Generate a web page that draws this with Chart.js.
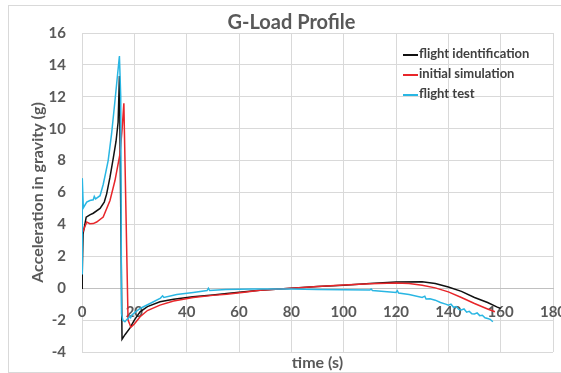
<!DOCTYPE html>
<html>
<head>
<meta charset="utf-8">
<script src="https://cdn.jsdelivr.net/npm/chart.js@4.4.1/dist/chart.umd.min.js"></script>
<style>
  body { margin: 0; background: #fff; }
  .wrap { position: relative; width: 561px; height: 373px; overflow: hidden; }
  .frame { position: absolute; left: 8px; top: 5px; width: 600px; height: 366px; border: 1px solid #d9d9d9; }
  #chart { position: absolute; left: 0; top: 0; }
  .legend { position: absolute; left: 403px; top: 43px; font: bold 13px Lato, sans-serif; color: #404040; }
  .legend div { height: 20px; line-height: 20px; white-space: nowrap; }
  .legend span { display: inline-block; width: 15px; height: 2px; vertical-align: middle; margin-right: 1px; }
</style>
</head>
<body>
<div class="wrap">
  <div class="frame"></div>
  <canvas id="chart" width="561" height="373"></canvas>
  <div class="legend" id="legend"></div>
</div>
<script>
const seriesLabels = ["flight identification", "initial simulation", "flight test"];
const seriesColors = ["#111111", "#e8262a", "#29b6e3"];

const timeTicks = [0, 20, 40, 60, 80, 100, 120, 140, 160, 180];
const gTicks = [-4, -2, 0, 2, 4, 6, 8, 10, 12, 14, 16];

// flight identification
const identTime = [0, 0.1, 0.4, 1.6, 3, 4.3, 6.9, 8.5, 9.4, 10.7, 12, 13, 13.8, 14.3, 15.3, 16.5, 18.3, 20, 22.2, 25, 29.8, 35, 42.4, 50, 55.3, 62, 68, 80, 90, 100, 110, 120, 130, 135, 140, 145, 150, 155, 158.5, 160];
const identG = [0, 0.9, 3.4, 4.45, 4.6, 4.7, 5.0, 5.4, 5.9, 6.96, 8.2, 9.2, 10.4, 13.3, -3.2, -2.9, -2.5, -2.0, -1.48, -1.15, -0.85, -0.7, -0.54, -0.42, -0.33, -0.22, -0.125, 0, 0.1, 0.19, 0.3, 0.39, 0.4, 0.3, 0.08, -0.2, -0.58, -0.9, -1.17, -1.27];

// initial simulation
const simTime = [0.2, 0.5, 1.8, 3, 4.3, 5.6, 8.1, 10.7, 12.6, 14.5, 15.3, 16.0, 17.6, 18.7, 20, 22.2, 25, 29.8, 35, 42.5, 50, 55.3, 62, 68, 80, 90, 100, 110, 120, 125, 130, 135, 140, 145, 150, 155, 157.8];
const simG = [3.5, 3.6, 4.15, 4.04, 4.05, 4.15, 4.46, 5.5, 6.75, 8.4, 9.9, 11.6, -2.0, -2.45, -2.25, -1.79, -1.4, -1.06, -0.8, -0.58, -0.45, -0.375, -0.25, -0.125, 0, 0.1, 0.2, 0.28, 0.33, 0.3, 0.19, 0.02, -0.23, -0.58, -0.96, -1.3, -1.48];

// flight test
const testTime = [0, 0.1, 0.5, 1.8, 3, 4.3, 4.7, 5.2, 6.9, 8.1, 9, 10, 11.3, 12.6, 14.3, 14.8, 15.1, 15.6, 16.4, 17.2, 17.7, 18.2, 18.6, 19, 20, 22.2, 26, 30, 30.8, 31.3, 36.2, 42.5, 47.8, 48.3, 48.8, 55, 65, 80, 90, 100, 110, 110.5, 111, 120, 120.5, 121, 125, 130, 131, 131.5, 133, 135, 137, 139, 140, 141, 142, 143, 144, 145, 146, 147, 148, 149, 150, 151, 152, 153, 154, 155, 156, 157];
const testG = [0.9, 6.9, 5.04, 5.4, 5.5, 5.54, 5.75, 5.6, 5.8, 6.5, 7.2, 8.0, 9.67, 11.75, 14.56, 12.0, -1.6, -2.0, -2.1, -1.95, -1.9, -1.75, -1.85, -1.69, -1.55, -1.27, -0.96, -0.62, -0.48, -0.58, -0.4, -0.27, -0.15, 0.0, -0.15, -0.08, -0.05, -0.05, -0.08, -0.1, -0.12, -0.05, -0.14, -0.27, -0.15, -0.3, -0.4, -0.58, -0.5, -0.68, -0.66, -0.75, -0.9, -1.0, -1.06, -1.0, -1.2, -1.15, -1.33, -1.37, -1.3, -1.5, -1.45, -1.6, -1.62, -1.55, -1.72, -1.7, -1.85, -1.9, -1.95, -2.1];

const toPoints = (xs, ys) => xs.map((x, i) => ({ x: x, y: ys[i] }));
const seriesPoints = [toPoints(identTime, identG), toPoints(simTime, simG), toPoints(testTime, testG)];
const drawOrder = [2, 1, 0]; // flight test on top

const textGray = "#595959";
const gridGray = "#d9d9d9";

const chart = new Chart(document.getElementById("chart"), {
  type: "line",
  data: {
    datasets: seriesLabels.map((label, i) => ({
      label: label,
      data: seriesPoints[i],
      borderColor: seriesColors[i],
      backgroundColor: seriesColors[i],
      borderWidth: 1.5,
      pointRadius: 0,
      tension: 0,
      fill: false,
      order: drawOrder[i]
    }))
  },
  options: {
    responsive: false,
    animation: false,
    layout: { padding: { left: 30, right: 8, top: 0, bottom: 0 } },
    plugins: {
      legend: { display: false },
      tooltip: { enabled: false },
      title: {
        display: true,
        text: "G-Load Profile",
        color: textGray,
        font: { family: "Lato", weight: "bold", size: 20, lineHeight: 1 },
        padding: { top: 13, bottom: 0 }
      }
    },
    scales: {
      x: {
        type: "linear",
        position: { y: 0 },
        min: 0,
        max: 180,
        afterBuildTicks: axis => { axis.ticks = timeTicks.map(v => ({ value: v })); },
        afterFit: scale => { scale.paddingLeft = 0; scale.paddingRight = 0; },
        grid: { color: gridGray, drawTicks: false },
        border: { color: "#c0c0c0" },
        ticks: {
          color: textGray,
          padding: 15,
          maxRotation: 0,
          font: { family: "Lato", weight: "bold", size: 15 }
        }
      },
      x2: {
        type: "linear",
        axis: "x",
        position: "bottom",
        grid: { display: false, drawTicks: false },
        border: { display: false },
        ticks: { display: false },
        afterFit: scale => { scale.height = 21; },
        title: {
          display: true,
          text: "time (s)",
          color: textGray,
          font: { family: "Lato", weight: "bold", size: 16, lineHeight: 1.2 },
          padding: { top: 0, bottom: 1 }
        }
      },
      y: {
        type: "linear",
        min: -4,
        max: 16,
        afterBuildTicks: axis => { axis.ticks = gTicks.map(v => ({ value: v })); },
        afterFit: scale => { scale.width = 52; scale.paddingTop = 0; scale.paddingBottom = 0; },
        grid: { color: gridGray, drawTicks: false },
        border: { display: false },
        ticks: {
          color: textGray,
          padding: 16,
          font: { family: "Lato", weight: "bold", size: 15 }
        },
        title: {
          display: true,
          text: "Acceleration in gravity (g)",
          color: textGray,
          font: { family: "Lato", weight: "bold", size: 16, lineHeight: 1 },
          padding: 0
        }
      }
    }
  }
});

const legendBox = document.getElementById("legend");
chart.data.datasets.forEach(ds => {
  const row = document.createElement("div");
  const swatch = document.createElement("span");
  swatch.style.background = ds.borderColor;
  row.appendChild(swatch);
  row.appendChild(document.createTextNode(ds.label));
  legendBox.appendChild(row);
});
</script>
</body>
</html>
